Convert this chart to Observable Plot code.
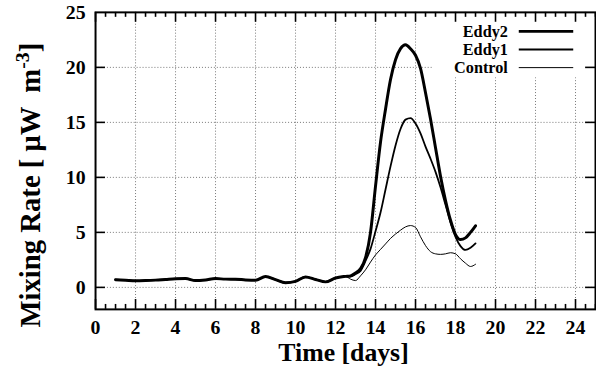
<!DOCTYPE html>
<html><head><meta charset="utf-8">
<script src="https://cdn.jsdelivr.net/npm/d3@7"></script>
<script src="https://cdn.jsdelivr.net/npm/@observablehq/plot@0.6"></script>
<style>html,body{margin:0;padding:0;overflow:hidden;background:#fff}</style>
</head><body><div id="chart"></div>
<script>
const days = [1,1.5,2,2.5,3,3.5,4,4.5,5,5.5,6,6.5,7,7.5,8,8.5,9,9.5,10,10.5,11,11.5,12,12.5,
  12.75,13,13.25,13.5,13.75,14,14.25,14.5,14.75,15,15.25,15.5,15.75,16,16.25,16.5,16.75,17,17.25,17.5,17.75,18,18.25,18.5,18.75,19];
const baseRate = [0.7,0.65,0.6,0.62,0.66,0.72,0.78,0.8,0.62,0.68,0.8,0.75,0.74,0.68,0.65,0.98,0.7,0.42,0.55,0.95,0.72,0.5,0.85,1.0];
const eddy2Tail = [1.05,1.3,1.7,2.7,5.0,9.2,13.2,16.2,18.9,20.7,21.7,22.05,21.7,21.1,19.9,17.7,15.3,12.7,10.1,7.9,6.1,4.8,4.35,4.5,5.0,5.6];
const eddy1Tail = [0.98,1.2,1.5,2.4,3.5,5.1,6.8,8.9,11.0,12.9,14.4,15.25,15.38,14.9,14.0,12.8,11.7,10.5,9.1,7.5,5.9,4.6,3.75,3.4,3.6,4.0];
const controlTail = [0.75,0.62,1.05,1.6,2.3,2.95,3.45,3.95,4.45,4.85,5.2,5.5,5.62,5.45,4.6,3.8,3.25,3.05,3.0,3.05,3.15,3.05,2.6,2.2,1.9,2.1];
const seriesNames = ["Eddy2","Eddy1","Control"];
const xMajorTicks = [0,2,4,6,8,10,12,14,16,18,20,22,24];
const yMajorTicks = [0,5,10,15,20];

const seriesValues = [baseRate.concat(eddy2Tail), baseRate.concat(eddy1Tail), baseRate.concat(controlTail)];
const table = [];
seriesNames.forEach((s, i) => days.forEach((d, j) => table.push({series: s, day: d, rate: seriesValues[i][j]})));
const widths = {Eddy2: 3, Eddy1: 1.8, Control: 1};
const xMinorTicks = d3.range(0, 25.001, 0.5).filter(v => v % 2 !== 0);

const W = 602, H = 376, mL = 96, mR = 1, mT = 12, mB = 64;
const frameW = W - mL - mR, frameH = H - mT - mB;
const font = "'Liberation Serif','Times New Roman',serif";

const lines = seriesNames.map(s => Plot.line(table.filter(d => d.series === s), {
  x: "day", y: "rate", stroke: "black", strokeWidth: widths[s], curve: "monotone-x"
}));

const chart = Plot.plot({
  width: W, height: H, marginLeft: mL, marginRight: mR, marginTop: mT, marginBottom: mB,
  style: {fontFamily: font, fontWeight: "bold", fontSize: "20px", color: "black", background: "white", overflow: "visible"},
  x: {domain: [0, 25]},
  y: {domain: [-2, 25]},
  marks: [
    Plot.gridX(xMajorTicks.filter(v => v > 0), {stroke: "#777", strokeOpacity: 1, strokeDasharray: "1,2"}),
    Plot.gridY(yMajorTicks, {stroke: "#777", strokeOpacity: 1, strokeDasharray: "1,2"}),
    ...lines,
    Plot.tickX(xMajorTicks, {x: d => d, insetTop: frameH - 10, strokeWidth: 1.6}),
    Plot.tickX(xMinorTicks, {x: d => d, insetTop: frameH - 5, strokeWidth: 1.6}),
    Plot.tickX(xMajorTicks, {x: d => d, insetBottom: frameH - 10, strokeWidth: 1.6}),
    Plot.tickX(xMinorTicks, {x: d => d, insetBottom: frameH - 5, strokeWidth: 1.6}),
    Plot.tickY(yMajorTicks, {y: d => d, insetRight: frameW - 10, strokeWidth: 1.6}),
    Plot.tickY(yMajorTicks, {y: d => d, insetLeft: frameW - 10, strokeWidth: 1.6}),
    Plot.frame({stroke: "black", strokeWidth: 2}),
    Plot.axisX({ticks: xMajorTicks, tickSize: 0, tickPadding: 11, label: null, fontWeight: "bold", fontSize: 20}),
    Plot.axisY({ticks: yMajorTicks.concat([25]), tickSize: 0, tickPadding: 10, label: null, fontWeight: "bold", fontSize: 20})
  ]
});
document.getElementById("chart").appendChild(chart);

const svg = d3.select(chart);
// legend background box (hides grid beneath legend)
const firstLine = chart.querySelector('g[aria-label="line"]');
svg.insert("rect", () => firstLine).attr("x", 437).attr("y", 14).attr("width", 170).attr("height", 64).attr("fill", "white");
const legY = [31.7, 50, 68.3];
seriesNames.forEach((s, i) => {
  svg.append("text").attr("x", 513).attr("y", legY[i]).attr("dy", "0.35em").attr("text-anchor", "end")
    .attr("font-size", 16.4).attr("font-weight", "bold").attr("font-family", font).text(s);
  svg.append("line").attr("x1", 524).attr("x2", 579).attr("y1", legY[i]).attr("y2", legY[i])
    .attr("stroke", "black").attr("stroke-width", widths[s]);
});
// axis titles
svg.append("text").attr("x", 347).attr("y", 356).attr("dy", "0.35em").attr("text-anchor", "middle")
  .attr("font-size", 26).attr("font-weight", "bold").attr("font-family", font).text("Time [days]");
const yl = svg.append("text").attr("transform", "translate(30,187) rotate(-90)").attr("text-anchor", "middle")
  .attr("dy", "0.35em").attr("font-size", 29).attr("font-weight", "bold").attr("font-family", font)
  .style("white-space", "pre");
yl.append("tspan").text("Mixing Rate [ \u03bcW  m");
yl.append("tspan").attr("dy", -11).attr("font-size", 20).text("-3");
yl.append("tspan").attr("dy", 11).text("]");
</script></body></html>
